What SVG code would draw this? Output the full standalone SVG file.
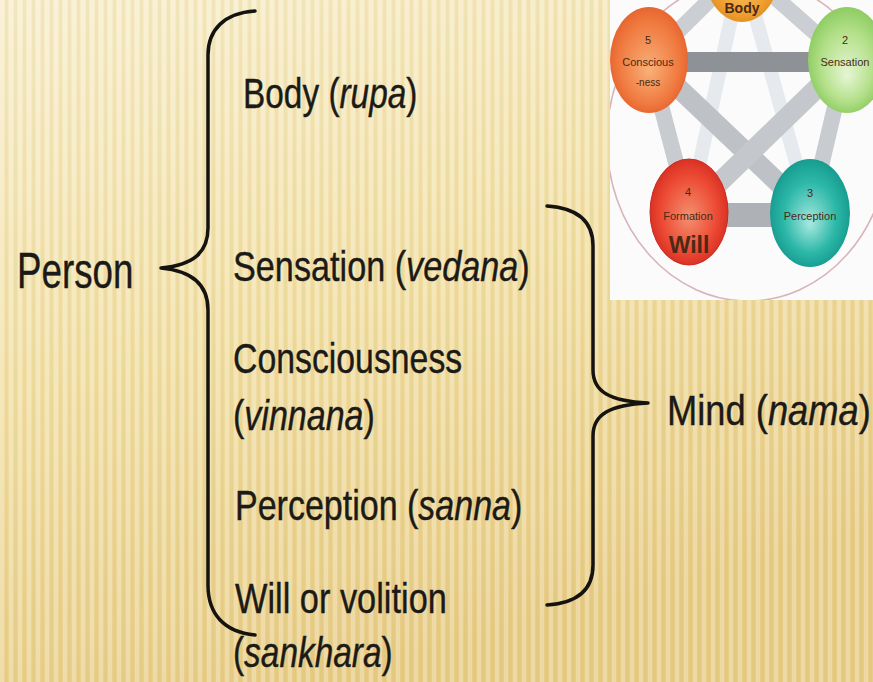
<svg xmlns="http://www.w3.org/2000/svg" width="873" height="682" viewBox="0 0 873 682">
  <defs>
    <linearGradient id="bg" x1="0" y1="0" x2="0.35" y2="1">
      <stop offset="0" stop-color="#f8eecd"/>
      <stop offset="0.5" stop-color="#f2e0a6"/>
      <stop offset="1" stop-color="#e8cd88"/>
    </linearGradient>
    <pattern id="stripes" width="9" height="20" patternUnits="userSpaceOnUse">
      <rect x="0" y="0" width="4" height="20" fill="#ffffff" opacity="0.24"/>
      <rect x="5" y="0" width="3" height="20" fill="#a88420" opacity="0.08"/>
    </pattern>
    <radialGradient id="gOrange" cx="0.5" cy="0.5" r="0.55" fx="0.5" fy="0.6">
      <stop offset="0" stop-color="#f8b078"/>
      <stop offset="0.7" stop-color="#f07a40"/>
      <stop offset="1" stop-color="#e35f2a"/>
    </radialGradient>
    <radialGradient id="gBody" cx="0.5" cy="0.5" r="0.55" fx="0.5" fy="0.6">
      <stop offset="0" stop-color="#f8c870"/>
      <stop offset="0.7" stop-color="#f0a030"/>
      <stop offset="1" stop-color="#e08a20"/>
    </radialGradient>
    <radialGradient id="gGreen" cx="0.5" cy="0.5" r="0.55" fx="0.5" fy="0.65">
      <stop offset="0" stop-color="#e6f6d4"/>
      <stop offset="0.6" stop-color="#b4e08a"/>
      <stop offset="1" stop-color="#86c85a"/>
    </radialGradient>
    <radialGradient id="gRed" cx="0.5" cy="0.5" r="0.55" fx="0.5" fy="0.55">
      <stop offset="0" stop-color="#f49070"/>
      <stop offset="0.65" stop-color="#ec4a34"/>
      <stop offset="1" stop-color="#d42a20"/>
    </radialGradient>
    <radialGradient id="gTeal" cx="0.5" cy="0.5" r="0.55" fx="0.5" fy="0.6">
      <stop offset="0" stop-color="#a8e8e0"/>
      <stop offset="0.6" stop-color="#2cb8a8"/>
      <stop offset="1" stop-color="#12968a"/>
    </radialGradient>
    <clipPath id="insetClip">
      <rect x="610" y="0" width="263" height="300"/>
    </clipPath>
    <style>
      .txt { font-family: "Liberation Sans", Arial, sans-serif; fill: #1c1a16; stroke: #1c1a16; stroke-width: 0.4; }
      .it { font-style: italic; }
      .brace { fill: none; stroke: #151310; stroke-width: 3.5; stroke-linecap: round; stroke-linejoin: round; }
      .bar { fill: none; stroke-linecap: butt; }
      .ctx { font-family: "Liberation Sans", Arial, sans-serif; text-anchor: middle; fill: #4a2a14; }
    </style>
  </defs>

  <!-- background -->
  <rect x="0" y="0" width="873" height="682" fill="url(#bg)"/>
  <rect x="0" y="0" width="873" height="682" fill="url(#stripes)"/>

  <!-- inset picture -->
  <g id="inset" clip-path="url(#insetClip)">
    <rect x="610" y="0" width="263" height="300" fill="#fbfbfb"/>
    <ellipse cx="748" cy="140" rx="141" ry="161" fill="none" stroke="#d8b4ba" stroke-width="1.6"/>
    <g id="inset-connectors">
      <line class="bar" x1="742" y1="-32" x2="689" y2="212" stroke="#e6e9ed" stroke-width="14"/>
      <line class="bar" x1="742" y1="-32" x2="810" y2="213" stroke="#e6e9ed" stroke-width="14"/>
      <line class="bar" x1="742" y1="-32" x2="649" y2="60" stroke="#cbcfd3" stroke-width="16"/>
      <line class="bar" x1="742" y1="-32" x2="846" y2="60" stroke="#cbcfd3" stroke-width="16"/>
      <line class="bar" x1="649" y1="60" x2="689" y2="212" stroke="#c8ccd0" stroke-width="16"/>
      <line class="bar" x1="846" y1="60" x2="810" y2="213" stroke="#c8ccd0" stroke-width="16"/>
      <line class="bar" x1="649" y1="60" x2="810" y2="213" stroke="#bec2c6" stroke-width="20"/>
      <line class="bar" x1="846" y1="60" x2="689" y2="212" stroke="#c4c8cc" stroke-width="20"/>
      <line class="bar" x1="649" y1="62" x2="846" y2="62" stroke="#8e9296" stroke-width="20"/>
      <line class="bar" x1="689" y1="215" x2="810" y2="215" stroke="#aeb2b6" stroke-width="24"/>
    </g>
    <g id="c-body">
      <ellipse cx="742" cy="-30" rx="38" ry="52" fill="url(#gBody)"/>
      <text class="ctx" x="742" y="13" font-size="14" font-weight="bold">Body</text>
    </g>
    <g id="c-conscious">
      <ellipse cx="649" cy="60" rx="39" ry="53" fill="url(#gOrange)"/>
      <text class="ctx" x="648" y="44" font-size="11">5</text>
      <text class="ctx" x="648" y="66" font-size="11">Conscious</text>
      <text class="ctx" x="648" y="86" font-size="10">-ness</text>
    </g>
    <g id="c-sensation">
      <ellipse cx="847" cy="60" rx="39" ry="53" fill="url(#gGreen)"/>
      <text class="ctx" x="845" y="44" font-size="11">2</text>
      <text class="ctx" x="845" y="66" font-size="11">Sensation</text>
    </g>
    <g id="c-will">
      <ellipse cx="689" cy="212" rx="39" ry="53" fill="url(#gRed)" stroke="#c82a20" stroke-width="1"/>
      <text class="ctx" x="688" y="196" font-size="11">4</text>
      <text class="ctx" x="688" y="220" font-size="11">Formation</text>
      <text class="ctx" x="689" y="253" font-size="23" font-weight="bold" fill="#2a1008">Will</text>
    </g>
    <g id="c-perception">
      <ellipse cx="810" cy="213" rx="40" ry="54" fill="url(#gTeal)"/>
      <text class="ctx" x="810" y="197" font-size="11" fill="#1a3a36">3</text>
      <text class="ctx" x="810" y="220" font-size="11" fill="#1a3a36">Perception</text>
    </g>
  </g>

  <!-- braces -->
  <g id="connectors">
    <path class="brace" d="M255,11 C224,13 208,30 208,55 L208,228 C208,252 194,265 161,268 C194,271 208,286 208,310 L208,585 C208,614 224,632 255,635"/>
    <path class="brace" d="M547,206 C578,208 593,222 593,246 L593,370 C593,392 610,401 648,403 C610,405 593,414 593,436 L593,565 C593,590 578,603 547,605"/>
  </g>

  <!-- nodes -->
  <g id="person">
    <text class="txt" font-size="50" transform="translate(17,288) scale(0.735,1)">Person</text>
  </g>
  <g id="body">
    <text class="txt" font-size="42" transform="translate(243,108) scale(0.795,1)">Body (<tspan class="it">rupa</tspan>)</text>
  </g>
  <g id="sensation">
    <text class="txt" font-size="42" transform="translate(233,281) scale(0.815,1)">Sensation (<tspan class="it">vedana</tspan>)</text>
  </g>
  <g id="consciousness">
    <text class="txt" font-size="42" transform="translate(233,373) scale(0.805,1)">Consciousness</text>
    <text class="txt" font-size="42" transform="translate(233,430) scale(0.81,1)">(<tspan class="it">vinnana</tspan>)</text>
  </g>
  <g id="perception">
    <text class="txt" font-size="42" transform="translate(235,520) scale(0.81,1)">Perception (<tspan class="it">sanna</tspan>)</text>
  </g>
  <g id="will">
    <text class="txt" font-size="42" transform="translate(235,613) scale(0.818,1)">Will or volition</text>
    <text class="txt" font-size="42" transform="translate(233,667) scale(0.795,1)">(<tspan class="it">sankhara</tspan>)</text>
  </g>
  <g id="mind">
    <text class="txt" font-size="42" transform="translate(667,425) scale(0.865,1)">Mind (<tspan class="it">nama</tspan>)</text>
  </g>
</svg>
